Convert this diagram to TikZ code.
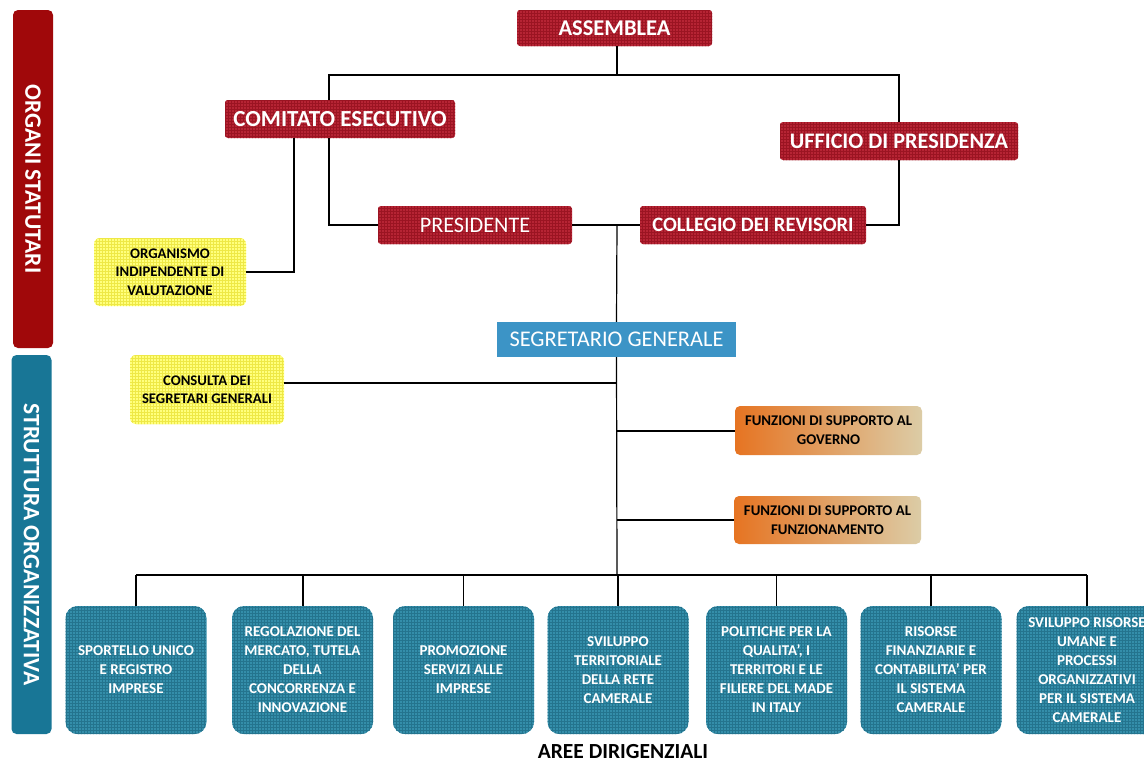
\documentclass[tikz,border=0pt]{standalone}
\usepackage{fontspec}
\setmainfont{Carlito}
\usetikzlibrary{patterns}
\definecolor{organored}{RGB}{182,36,52}
\definecolor{organogrid}{RGB}{155,20,34}
\definecolor{barred}{RGB}{160,8,10}
\definecolor{barteal}{RGB}{24,118,150}
\definecolor{areateal}{RGB}{52,142,170}
\definecolor{areagrid}{RGB}{36,116,142}
\definecolor{segblue}{RGB}{60,148,198}
\definecolor{organoyellow}{RGB}{255,255,125}
\definecolor{yellowgrid}{RGB}{238,232,70}
\definecolor{funzorange}{RGB}{230,116,34}
\definecolor{funzcream}{RGB}{242,232,206}
\definecolor{funztan}{RGB}{220,204,166}
\tikzset{
  organo/.style={fill=organored, rounded corners=3pt, inner sep=0pt, text=white,
    font=\bfseries\fontsize{22.5}{24}\selectfont, postaction={pattern=grid, pattern color=organogrid}},
  sidebar/.style={rounded corners=5pt, inner sep=0pt, rotate=-90, minimum height=40pt,
    text=white, font=\bfseries\fontsize{23.5}{25}\selectfont},
  consulto/.style={fill=organoyellow, rounded corners=6pt, inner sep=0pt, align=center,
    font=\bfseries\fontsize{14.7}{18.5}\selectfont, postaction={pattern=grid, pattern color=yellowgrid}},
  supporto/.style={left color=funzorange, middle color=funzcream, right color=funztan,
    rounded corners=5pt, inner sep=0pt, align=center, minimum width=187pt,
    font=\bfseries\fontsize{14.8}{19}\selectfont},
  area/.style={fill=areateal, rounded corners=12pt, inner sep=0pt, align=center, text=white,
    minimum width=141pt, minimum height=128pt, font=\bfseries\fontsize{15}{19}\selectfont,
    postaction={pattern=grid, pattern color=areagrid}},
  wire/.style={line width=1.2pt},
  heavy/.style={line width=2pt}
}

\begin{document}
\begin{tikzpicture}[x=1pt, y=-1pt]
  \fill[white] (0,0) rectangle (1144,763);
  \useasboundingbox (0,0) rectangle (1144,763);

  \node[sidebar, fill=barred, minimum width=338pt] (statutari) at (33,179) {ORGANI STATUTARI};
  \node[sidebar, fill=barteal, minimum width=379pt] (struttura) at (31.5,544.5) {STRUTTURA ORGANIZZATIVA};

  \node[organo, minimum width=195pt, minimum height=36pt] (assemblea) at (614.5,28) {ASSEMBLEA};
  \node[organo, minimum width=230pt, minimum height=38pt, font=\bfseries\fontsize{23}{25}\selectfont] (comitato) at (340,119) {COMITATO ESECUTIVO};
  \node[organo, minimum width=238pt, minimum height=38pt, font=\bfseries\fontsize{22.2}{24}\selectfont] (ufficio) at (899,141) {UFFICIO DI PRESIDENZA};
  \node[organo, minimum width=194pt, minimum height=38pt, font=\fontsize{22.2}{24}\selectfont] (presidente) at (475,225) {PRESIDENTE};
  \node[organo, minimum width=226pt, minimum height=38pt, font=\bfseries\fontsize{20.5}{22}\selectfont] (collegio) at (753,225) {COLLEGIO DEI REVISORI};

  \node[consulto, minimum width=152pt, minimum height=68pt] (oiv) at (170,272) {ORGANISMO\\INDIPENDENTE DI\\VALUTAZIONE};
  \node[consulto, minimum width=154pt, minimum height=69pt] (consulta) at (207,389.5) {CONSULTA DEI\\SEGRETARI GENERALI};

  \node[fill=segblue, inner sep=0pt, minimum width=239pt, minimum height=35pt, text=white,
    font=\fontsize{22.4}{24}\selectfont] (segretario) at (616.5,339.5) {SEGRETARIO GENERALE};

  \node[supporto, minimum height=49pt] (governo) at (828.5,430.5) {FUNZIONI DI SUPPORTO AL\\GOVERNO};
  \node[supporto, minimum height=48pt] (funzionamento) at (827.5,520) {FUNZIONI DI SUPPORTO AL\\FUNZIONAMENTO};

  \foreach \n/\x/\t in {1/136/{SPORTELLO UNICO\\E REGISTRO\\IMPRESE},
      2/302.5/{REGOLAZIONE DEL\\MERCATO, TUTELA\\DELLA\\CONCORRENZA E\\INNOVAZIONE},
      3/463.5/{PROMOZIONE\\SERVIZI ALLE\\IMPRESE},
      4/618/{SVILUPPO\\TERRITORIALE\\DELLA RETE\\CAMERALE},
      5/776.5/{POLITICHE PER LA\\QUALITA', I\\TERRITORI E LE\\FILIERE DEL MADE\\IN ITALY},
      6/931/{RISORSE\\FINANZIARIE E\\CONTABILITA' PER\\IL SISTEMA\\CAMERALE},
      7/1087/{SVILUPPO RISORSE\\UMANE E\\PROCESSI\\ORGANIZZATIVI\\PER IL SISTEMA\\CAMERALE}}
    \node[area] (area\n) at (\x,670) {\t};

  \node[font=\bfseries\fontsize{21.5}{23}\selectfont, inner sep=0pt] (aree) at (623,752) {AREE DIRIGENZIALI};

  \coordinate (bustop) at (617,75);
  \coordinate (midjoin) at (617,225);
  \coordinate (busbot) at (617,575);

  \draw[wire] (assemblea.south -| bustop) -- (bustop);
  \draw[wire] ([xshift=-11pt]comitato.north) |- (bustop) -| (ufficio.north);
  \draw[wire] ([xshift=-11pt]comitato.south) |- (presidente.west);
  \draw[wire] ([xshift=-46pt]comitato.south) |- (oiv.east);
  \draw[wire] (ufficio.south) |- (collegio.east);
  \draw[wire] (presidente.east) -- (collegio.west);
  \draw[wire] (midjoin) -- (segretario.north);
  \draw[wire] (segretario.south) -- (busbot);
  \draw[heavy] ([yshift=6.5pt]consulta.east) -- ([yshift=6.5pt]consulta.east -| busbot);
  \draw[heavy] (governo.west) -- (governo.west -| busbot);
  \draw[wire] (funzionamento.west) -- (funzionamento.west -| busbot);
  \draw[wire] (area1.north |- busbot) -- (area7.north |- busbot);
  \foreach \n in {1,2,4,6}
    \draw[heavy] (area\n.north |- busbot) -- (area\n.north);
  \foreach \n in {3,5,7}
    \draw[wire] (area\n.north |- busbot) -- (area\n.north);
\end{tikzpicture}
\end{document}
